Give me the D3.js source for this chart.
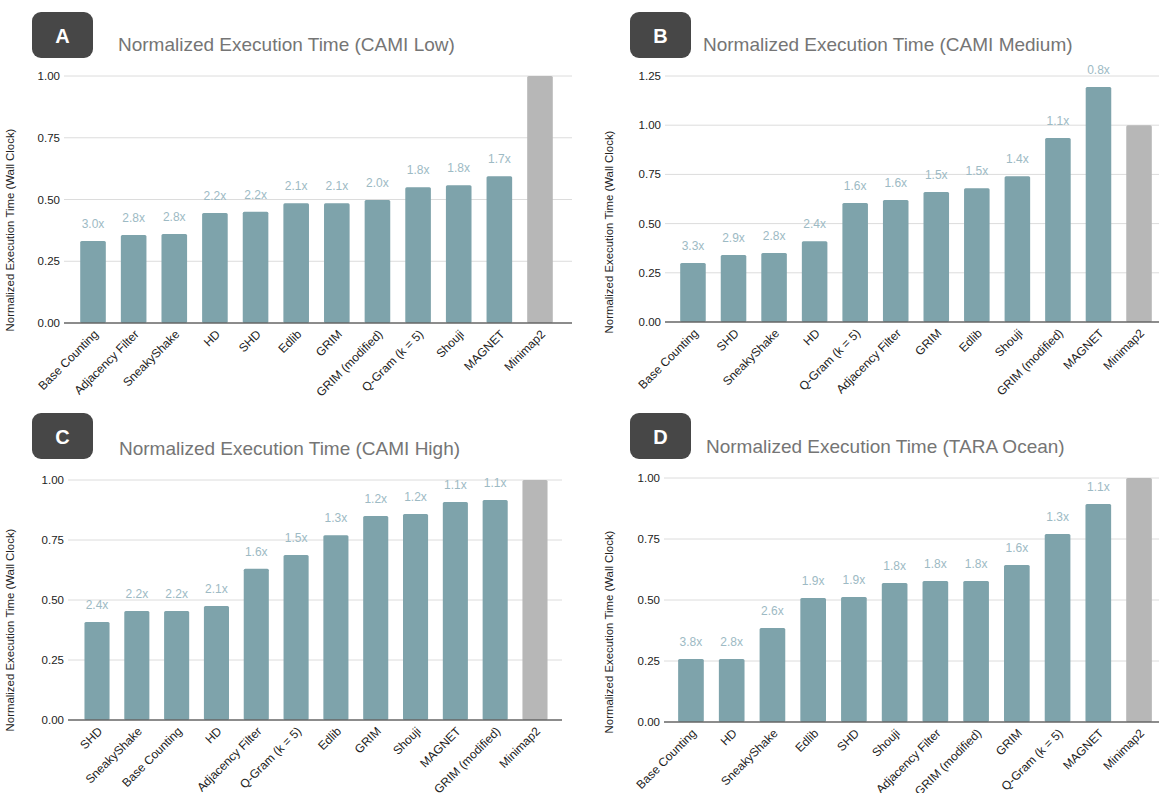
<!DOCTYPE html>
<html>
<head>
<meta charset="utf-8">
<script src="https://cdn.jsdelivr.net/npm/d3@7"></script>
<style>
  body { margin: 0; background: #fff; }
  text { font-family: "Liberation Sans", Arial, sans-serif; }
</style>
</head>
<body>
<script>
// ---- data ----
const lowCategories = ["Base Counting", "Adjacency Filter", "SneakyShake", "HD", "SHD", "Edlib", "GRIM", "GRIM (modified)", "Q-Gram (k = 5)", "Shouji", "MAGNET", "Minimap2"];
const lowValues = [0.332, 0.356, 0.36, 0.445, 0.45, 0.485, 0.485, 0.498, 0.55, 0.558, 0.594, 1.0];
const lowLabels = ["3.0x", "2.8x", "2.8x", "2.2x", "2.2x", "2.1x", "2.1x", "2.0x", "1.8x", "1.8x", "1.7x", ""];

const medCategories = ["Base Counting", "SHD", "SneakyShake", "HD", "Q-Gram (k = 5)", "Adjacency Filter", "GRIM", "Edlib", "Shouji", "GRIM (modified)", "MAGNET", "Minimap2"];
const medValues = [0.30, 0.34, 0.35, 0.41, 0.605, 0.62, 0.66, 0.68, 0.74, 0.935, 1.194, 1.0];
const medLabels = ["3.3x", "2.9x", "2.8x", "2.4x", "1.6x", "1.6x", "1.5x", "1.5x", "1.4x", "1.1x", "0.8x", ""];

const highCategories = ["SHD", "SneakyShake", "Base Counting", "HD", "Adjacency Filter", "Q-Gram (k = 5)", "Edlib", "GRIM", "Shouji", "MAGNET", "GRIM (modified)", "Minimap2"];
const highValues = [0.408, 0.454, 0.454, 0.475, 0.63, 0.688, 0.77, 0.85, 0.858, 0.908, 0.917, 1.0];
const highLabels = ["2.4x", "2.2x", "2.2x", "2.1x", "1.6x", "1.5x", "1.3x", "1.2x", "1.2x", "1.1x", "1.1x", ""];

const taraCategories = ["Base Counting", "HD", "SneakyShake", "Edlib", "SHD", "Shouji", "Adjacency Filter", "GRIM (modified)", "GRIM", "Q-Gram (k = 5)", "MAGNET", "Minimap2"];
const taraValues = [0.258, 0.258, 0.385, 0.508, 0.512, 0.57, 0.578, 0.578, 0.643, 0.77, 0.893, 1.0];
const taraLabels = ["3.8x", "2.8x", "2.6x", "1.9x", "1.9x", "1.8x", "1.8x", "1.8x", "1.6x", "1.3x", "1.1x", ""];

const ticksLow = [0, 0.25, 0.5, 0.75, 1.0];
const ticksMed = [0, 0.25, 0.5, 0.75, 1.0, 1.25];

const width = 1159;
const height = 793;
const barColor = "#7ea3ab";
const refColor = "#b7b7b7";
const labelColor = "#9dbac4";

let svg = d3.select("body")
    .append("svg")
    .attr("width", width)
    .attr("height", height);

// layout of the four panels
const panels = [
    { letter: "A", title: "Normalized Execution Time (CAMI Low)", cats: lowCategories, vals: lowValues, labels: lowLabels, ticks: ticksLow,
      badgeX: 32, badgeY: 12, titleX: 118, titleY: 51, axisTitleX: 14, axisTitleY: 230,
      gridX0: 64, gridX1: 572, yTop: 76, yBase: 323, xr: [72.7, 560.3] },
    { letter: "B", title: "Normalized Execution Time (CAMI Medium)", cats: medCategories, vals: medValues, labels: medLabels, ticks: ticksMed,
      badgeX: 630, badgeY: 12, titleX: 703, titleY: 51, axisTitleX: 613, axisTitleY: 232,
      gridX0: 665, gridX1: 1159, yTop: 76, yBase: 322, xr: [672.7, 1159.3] },
    { letter: "C", title: "Normalized Execution Time (CAMI High)", cats: highCategories, vals: highValues, labels: highLabels, ticks: ticksLow,
      badgeX: 32, badgeY: 413, titleX: 119, titleY: 455, axisTitleX: 14, axisTitleY: 630,
      gridX0: 68, gridX1: 562, yTop: 480, yBase: 720, xr: [77.1, 554.9] },
    { letter: "D", title: "Normalized Execution Time (TARA Ocean)", cats: taraCategories, vals: taraValues, labels: taraLabels, ticks: ticksLow,
      badgeX: 630, badgeY: 413, titleX: 706, titleY: 453, axisTitleX: 613, axisTitleY: 632,
      gridX0: 664, gridX1: 1159, yTop: 478, yBase: 722, xr: [670.6, 1159.4] }
];

const drawPanel = (p) => {
    let g = svg.append("g");
    let maxTick = p.ticks[p.ticks.length - 1];

    let y = d3.scaleLinear().domain([0, maxTick]).range([p.yBase, p.yTop]);
    let x = d3.scaleBand().domain(p.cats).range(p.xr).paddingInner(0.37).paddingOuter(0.185);

    // badge + title
    g.append("rect")
        .attr("x", p.badgeX).attr("y", p.badgeY)
        .attr("width", 61).attr("height", 46)
        .attr("rx", 9)
        .attr("fill", "#474747");
    g.append("text")
        .attr("x", p.badgeX + 30.5).attr("y", p.badgeY + 31)
        .attr("text-anchor", "middle")
        .attr("font-size", 20).attr("font-weight", "bold")
        .attr("fill", "#fff")
        .text(p.letter);
    g.append("text")
        .attr("x", p.titleX).attr("y", p.titleY)
        .attr("font-size", 19)
        .attr("fill", "#757575")
        .text(p.title);

    // gridlines
    p.ticks.forEach(t => {
        if (t === 0) { return; }
        g.append("line")
            .attr("x1", p.gridX0).attr("x2", p.gridX1)
            .attr("y1", y(t)).attr("y2", y(t))
            .attr("stroke", "#dcdcdc").attr("stroke-width", 1);
    });

    // tick labels
    p.ticks.forEach(t => {
        g.append("text")
            .attr("x", p.gridX0 - 4).attr("y", y(t) + 4)
            .attr("text-anchor", "end")
            .attr("font-size", 11.5)
            .attr("fill", "#222")
            .text(t.toFixed(2));
    });

    // y axis title
    g.append("text")
        .attr("transform", "translate(" + p.axisTitleX + "," + p.axisTitleY + ") rotate(-90)")
        .attr("text-anchor", "middle")
        .attr("font-size", 11.4)
        .attr("fill", "#222")
        .text("Normalized Execution Time (Wall Clock)");

    // bars
    g.selectAll(".bar")
        .data(p.cats)
        .enter().append("rect")
        .attr("x", d => x(d))
        .attr("y", (d, i) => y(p.vals[i]))
        .attr("width", x.bandwidth())
        .attr("height", (d, i) => p.yBase - y(p.vals[i]))
        .attr("rx", 1.5)
        .attr("fill", (d, i) => i === p.cats.length - 1 ? refColor : barColor);

    // speedup labels
    g.selectAll(".lbl")
        .data(p.cats)
        .enter().append("text")
        .attr("x", d => x(d) + x.bandwidth() / 2)
        .attr("y", (d, i) => y(p.vals[i]) - 13)
        .attr("text-anchor", "middle")
        .attr("font-size", 12)
        .attr("fill", labelColor)
        .text((d, i) => p.labels[i]);

    // baseline
    g.append("line")
        .attr("x1", p.gridX0).attr("x2", p.gridX1)
        .attr("y1", p.yBase).attr("y2", p.yBase)
        .attr("stroke", "#666").attr("stroke-width", 1.5);

    // category labels
    g.selectAll(".cat")
        .data(p.cats)
        .enter().append("text")
        .attr("transform", d => "translate(" + (x(d) + x.bandwidth() / 2 + 6) + "," + (p.yBase + 12) + ") rotate(-45)")
        .attr("text-anchor", "end")
        .attr("font-size", 12)
        .attr("fill", "#222")
        .text(d => d);
};

panels.forEach(p => drawPanel(p));
</script>
</body>
</html>
